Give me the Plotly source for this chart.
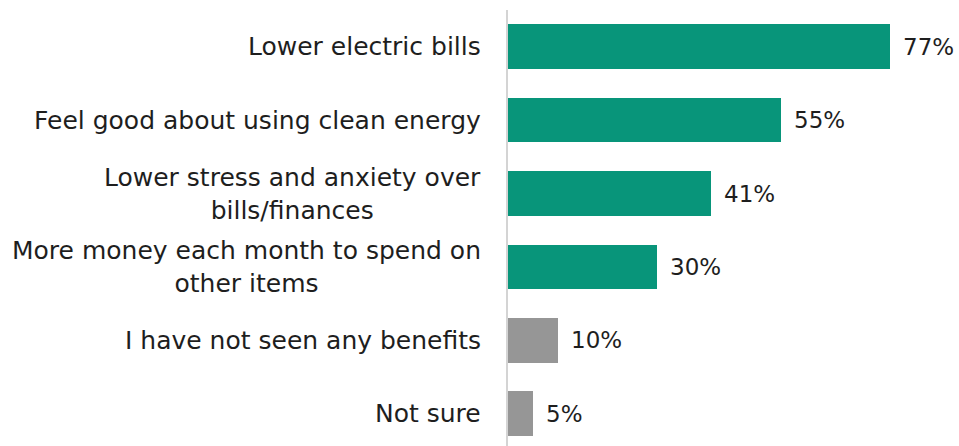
import plotly.graph_objects as go

categories = [
    "Lower electric bills",
    "Feel good about using clean energy",
    "Lower stress and anxiety over<br>bills/finances",
    "More money each month to spend on<br>other items",
    "I have not seen any benefits",
    "Not sure",
]
values = [77, 55, 41, 30, 10, 5]
colors = ["#08957A", "#08957A", "#08957A", "#08957A", "#969696", "#969696"]

FONT = "DejaVu Sans, Liberation Sans, Arial, sans-serif"
TEXT_COLOR = "#1e1e1e"

y_pos = list(range(len(categories)))

fig = go.Figure(
    go.Bar(
        x=values,
        y=y_pos,
        orientation="h",
        width=0.61,
        marker=dict(color=colors, line=dict(width=0)),
        hoverinfo="skip",
    )
)

# Category labels: right-anchored, lines centered within the block
for yi, label in zip(y_pos, categories):
    fig.add_annotation(
        x=0, xref="x", y=yi, yref="y",
        text=label, showarrow=False,
        xanchor="right", yanchor="middle", align="center",
        xshift=-25,
        font=dict(family=FONT, size=25, color=TEXT_COLOR),
    )

# Value labels just past the end of each bar
for yi, v in zip(y_pos, values):
    fig.add_annotation(
        x=v, xref="x", y=yi, yref="y",
        text=f"{v}%", showarrow=False,
        xanchor="left", yanchor="middle",
        xshift=11,
        font=dict(family=FONT, size=23, color=TEXT_COLOR),
    )

fig.update_layout(
    width=959, height=446,
    margin=dict(l=508, r=5, t=10, b=0),
    paper_bgcolor="white", plot_bgcolor="white",
    showlegend=False,
    bargap=0,
)
fig.update_xaxes(range=[0, 90], visible=False, showgrid=False, zeroline=False)
fig.update_yaxes(
    range=[5.44, -0.5], showticklabels=False, showgrid=False, zeroline=False,
    showline=True, linecolor="#d4d4d4", linewidth=2, ticks="",
)

fig.write_html("out.html")
